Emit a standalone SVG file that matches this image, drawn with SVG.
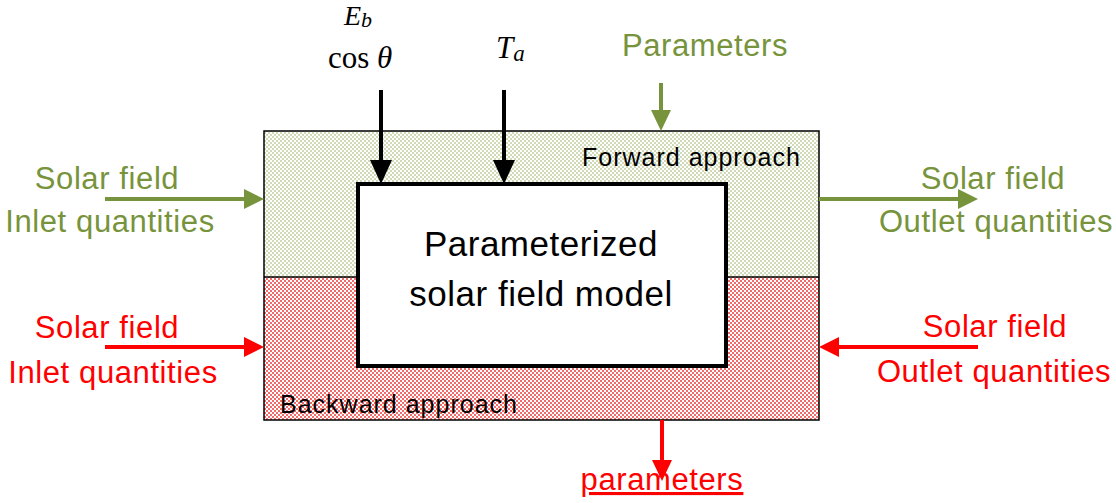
<svg xmlns="http://www.w3.org/2000/svg" width="1116" height="503" viewBox="0 0 1116 503">
<style>
.sans{font-family:"Liberation Sans",Arial,sans-serif}
.serif{font-family:"Liberation Serif","Times New Roman",serif}
.green{fill:#77933c}
.red{fill:#ff0000}
.lbl{font-size:31px;letter-spacing:0.6px;text-anchor:middle}
.small{font-size:25px;letter-spacing:1px}
.math{font-size:31px;fill:#000}
</style>
<defs>
<pattern id="pg" width="4" height="4" patternUnits="userSpaceOnUse">
<rect width="4" height="4" fill="#ffffff"/>
<rect width="2" height="2" fill="#d0dab6"/>
<rect x="2" y="2" width="2" height="2" fill="#d0dab6"/>
</pattern>
<pattern id="pr" width="4" height="4" patternUnits="userSpaceOnUse">
<rect width="4" height="4" fill="#ffffff"/>
<rect width="2" height="2" fill="#f26a6a"/>
<rect x="2" y="2" width="2" height="2" fill="#f26a6a"/>
</pattern>
</defs>
<g id="outer">
<rect x="264" y="131" width="555" height="146" fill="url(#pg)"/>
<rect x="264" y="277" width="555" height="143" fill="url(#pr)"/>
<rect x="264" y="131" width="555" height="289" fill="none" stroke="#000" stroke-width="1.5"/>
<line x1="264" y1="277" x2="819" y2="277" stroke="#000" stroke-width="1.5"/>
<text class="sans small" x="582" y="166">Forward approach</text>
<text class="sans small" x="280" y="413">Backward approach</text>
</g>
<g id="model">
<rect x="358" y="184" width="368" height="182" fill="#fff" stroke="#000" stroke-width="4"/>
<text class="sans" x="541" y="256" font-size="35" letter-spacing="0.5" text-anchor="middle">Parameterized</text>
<text class="sans" x="541" y="306" font-size="35" letter-spacing="0.5" text-anchor="middle">solar field model</text>
</g>
<g id="labels">
<text class="serif" x="344" y="25" font-size="28" font-style="italic">E<tspan font-size="22" dy="2">b</tspan></text>
<text class="serif math" x="328" y="68">cos <tspan font-style="italic">θ</tspan></text>
<text class="serif math" x="496" y="58" font-style="italic">T<tspan font-size="23" dy="3">a</tspan></text>
<text class="sans green" x="705" y="56" font-size="31" letter-spacing="0.6" text-anchor="middle">Parameters</text>
<text class="sans green lbl" x="107" y="189">Solar field</text>
<text class="sans green lbl" x="110" y="232">Inlet quantities</text>
<text class="sans red lbl" x="107" y="338">Solar field</text>
<text class="sans red lbl" x="113" y="383">Inlet quantities</text>
<text class="sans green lbl" x="993" y="189">Solar field</text>
<text class="sans green lbl" x="996" y="232">Outlet quantities</text>
<text class="sans red lbl" x="995" y="337">Solar field</text>
<text class="sans red lbl" x="994" y="382">Outlet quantities</text>
<text class="sans red" x="662" y="490" font-size="31" letter-spacing="0.6" text-anchor="middle" text-decoration="underline">parameters</text>
</g>
<g id="connectors">
<line x1="381" y1="90" x2="381" y2="162" stroke="#000" stroke-width="4"/>
<path d="M370,160 L392,160 L381,184 z" fill="#000"/>
<line x1="504" y1="90" x2="504" y2="162" stroke="#000" stroke-width="4"/>
<path d="M493,160 L515,160 L504,184 z" fill="#000"/>
<line x1="661" y1="83" x2="661" y2="112" stroke="#77933c" stroke-width="4"/>
<path d="M651,110 L671,110 L661,131 z" fill="#77933c"/>
<line x1="105" y1="199" x2="246" y2="199" stroke="#77933c" stroke-width="4"/>
<path d="M244,189 L244,209 L264,199 z" fill="#77933c"/>
<line x1="819" y1="199" x2="960" y2="199" stroke="#77933c" stroke-width="4"/>
<path d="M958,189 L958,209 L978,199 z" fill="#77933c"/>
<line x1="105" y1="347" x2="246" y2="347" stroke="#ff0000" stroke-width="4"/>
<path d="M244,337 L244,357 L264,347 z" fill="#ff0000"/>
<line x1="978" y1="347" x2="837" y2="347" stroke="#ff0000" stroke-width="4"/>
<path d="M839,337 L839,357 L819,347 z" fill="#ff0000"/>
<line x1="662" y1="420" x2="662" y2="462" stroke="#ff0000" stroke-width="4"/>
<path d="M652,460 L672,460 L662,481 z" fill="#ff0000"/>
</g>
</svg>
